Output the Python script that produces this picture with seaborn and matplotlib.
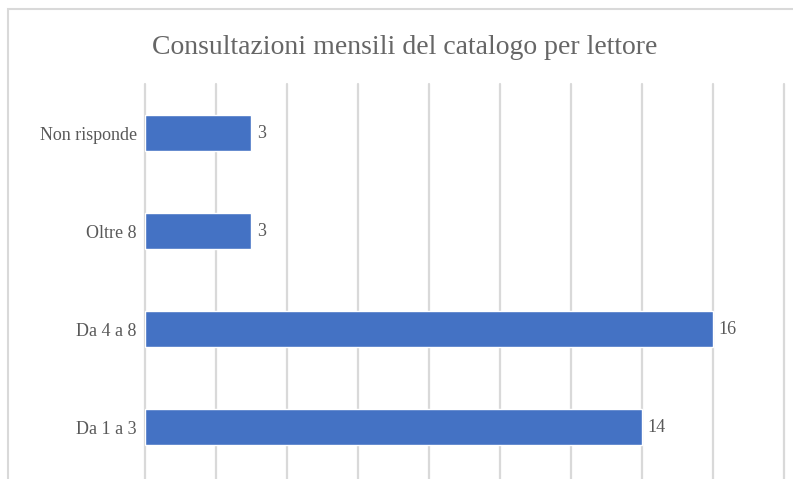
import pandas as pd
import matplotlib.pyplot as plt
import seaborn as sns
from matplotlib.patches import Rectangle

# dati
categorie = ['Non risponde', 'Oltre 8', 'Da 4 a 8', 'Da 1 a 3']
valori = [3, 3, 16, 14]
titolo = 'Consultazioni mensili del catalogo per lettore'

df = pd.DataFrame({'Categoria': categorie, 'Valore': valori})

sns.set_style('white')
plt.rcParams['font.family'] = ['Liberation Serif', 'DejaVu Serif']

fig = plt.figure(figsize=(7.93, 4.79), dpi=100)
ax = fig.add_axes([145 / 793, 0, 639 / 793, 395 / 479])

sns.barplot(data=df, x='Valore', y='Categoria', color='#4472C4', width=0.36,
            saturation=1, ax=ax, zorder=3)

ax.set_xlim(0, 18)
ax.set_ylim(3.53, -0.5)
ax.set_xticks(range(0, 19, 2))
ax.tick_params(axis='x', length=0, labelbottom=False)
ax.tick_params(axis='y', length=0, labelsize=13, labelcolor='#595959', pad=6)
ax.grid(axis='x', color='#D9D9D9', linewidth=1.6, zorder=0)
for gl in ax.get_xgridlines():
    gl.set_clip_on(False)
ax.set_axisbelow(True)
for s in ax.spines.values():
    s.set_visible(False)
ax.set_xlabel('')
ax.set_ylabel('')

for c in ax.containers:
    ax.bar_label(c, padding=4, fontsize=13, color='#595959')

fig.text(405 / 793, 1 - 48 / 479, titolo, ha='center', va='center',
         fontsize=20, color='#666666')

# bordo del riquadro del grafico (tagliato a destra e in basso)
fig.patches.append(Rectangle((8 / 793, -0.1), 1.2, 1.1 - 8.5 / 479,
                             transform=fig.transFigure, fill=False,
                             edgecolor='#D9D9D9', linewidth=1.5))

fig.savefig('out.png', dpi=100)
